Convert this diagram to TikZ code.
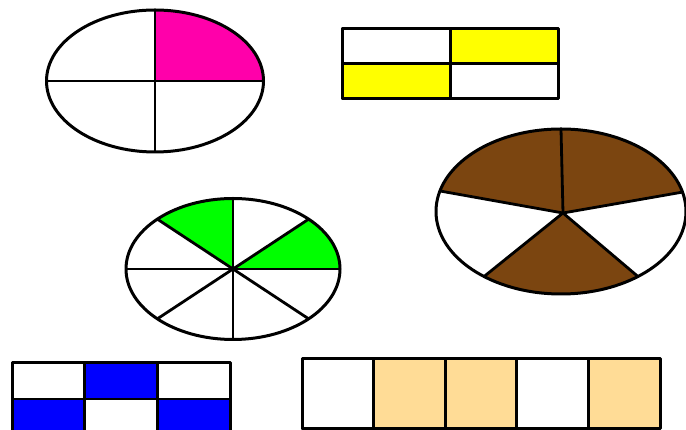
\documentclass[tikz,border=0pt]{standalone}
\usepackage{tikz}
\usetikzlibrary{calc}
\definecolor{fmagenta}{HTML}{FF00AA}
\definecolor{fyellow}{HTML}{FFFF00}
\definecolor{fbrown}{HTML}{7B4510}
\definecolor{fgreen}{HTML}{00FF00}
\definecolor{fblue}{HTML}{0000FF}
\definecolor{fpeach}{HTML}{FFDC96}
\tikzset{
  outline/.style={draw=black, line width=3pt},
  spoke/.style={draw=black, line width=2.8pt},
  cell/.style={fill=#1, draw=black, line width=2.8pt},
}

\begin{document}
\begin{tikzpicture}[x=1pt, y=1pt, line join=round]
  \clip (0,0) rectangle (686,430);
  \fill[white] (0,0) rectangle (686,430);

  %% ── Quarters (top left) ──
  \begin{scope}[shift={(155,349)}]
    \fill[fmagenta] (0,0) -- (0:108.5 and 71)
      arc[start angle=0, end angle=90, x radius=108.5, y radius=71] -- cycle;
    \draw[spoke] (180:108.5 and 71) -- (0:108.5 and 71);
    \draw[spoke] (90:108.5 and 71) -- (270:108.5 and 71);
    \draw[outline] (0,0) ellipse [x radius=108.5, y radius=71];
  \end{scope}

  %% ── Two by two bar (top middle) ──
  \begin{scope}[shift={(342.5,331)}]
    \foreach \i/\j/\c in {0/1/white, 1/1/fyellow, 0/0/fyellow, 1/0/white}
      \path[cell=\c] (\i*107.75,\j*35.25) rectangle ++(107.75,35.25);
    \draw[outline] (0,0) rectangle (215.5,70.5);
  \end{scope}

  %% ── Fifths (right) ──
  \begin{scope}[shift={(561,218.5)}]
    \foreach \s/\e in {13.6/90, 90/165.6, 232/308}
      \fill[fbrown] (2,-1.5) -- (\s:125 and 82.5)
        arc[start angle=\s, end angle=\e, x radius=125, y radius=82.5] -- cycle;
    \foreach \a in {13.6, 90, 165.6, 232, 308}
      \draw[spoke] (2,-1.5) -- (\a:125 and 82.5);
    \draw[outline] (0,0) ellipse [x radius=125, y radius=82.5];
  \end{scope}

  %% ── Eighths (middle) ──
  \begin{scope}[shift={(233,161)}]
    \foreach \s/\e in {0/45, 90/135}
      \fill[fgreen] (0,0) -- (\s:107 and 70.5)
        arc[start angle=\s, end angle=\e, x radius=107, y radius=70.5] -- cycle;
    \foreach \a in {0,45,...,315}
      \draw[spoke] (0,0) -- (\a:107 and 70.5);
    \draw[outline] (0,0) ellipse [x radius=107, y radius=70.5];
  \end{scope}

  %% ── Three by two bar (bottom left) ──
  \begin{scope}[shift={(12,-5)}]
    \foreach \i/\j/\c in {0/1/white, 1/1/fblue, 2/1/white, 0/0/fblue, 1/0/white, 2/0/fblue}
      \path[cell=\c] (\i*72.67,\j*36) rectangle ++(72.67,36);
    \draw[outline] (0,0) rectangle (218,72);
  \end{scope}

  %% ── Five strip (bottom right) ──
  \begin{scope}[shift={(302,1)}]
    \foreach \i/\c in {0/white, 1/fpeach, 2/fpeach, 3/white, 4/fpeach}
      \path[cell=\c] (\i*71.6,0) rectangle ++(71.6,70);
    \draw[outline] (0,0) rectangle (358,70);
  \end{scope}
\end{tikzpicture}
\end{document}
